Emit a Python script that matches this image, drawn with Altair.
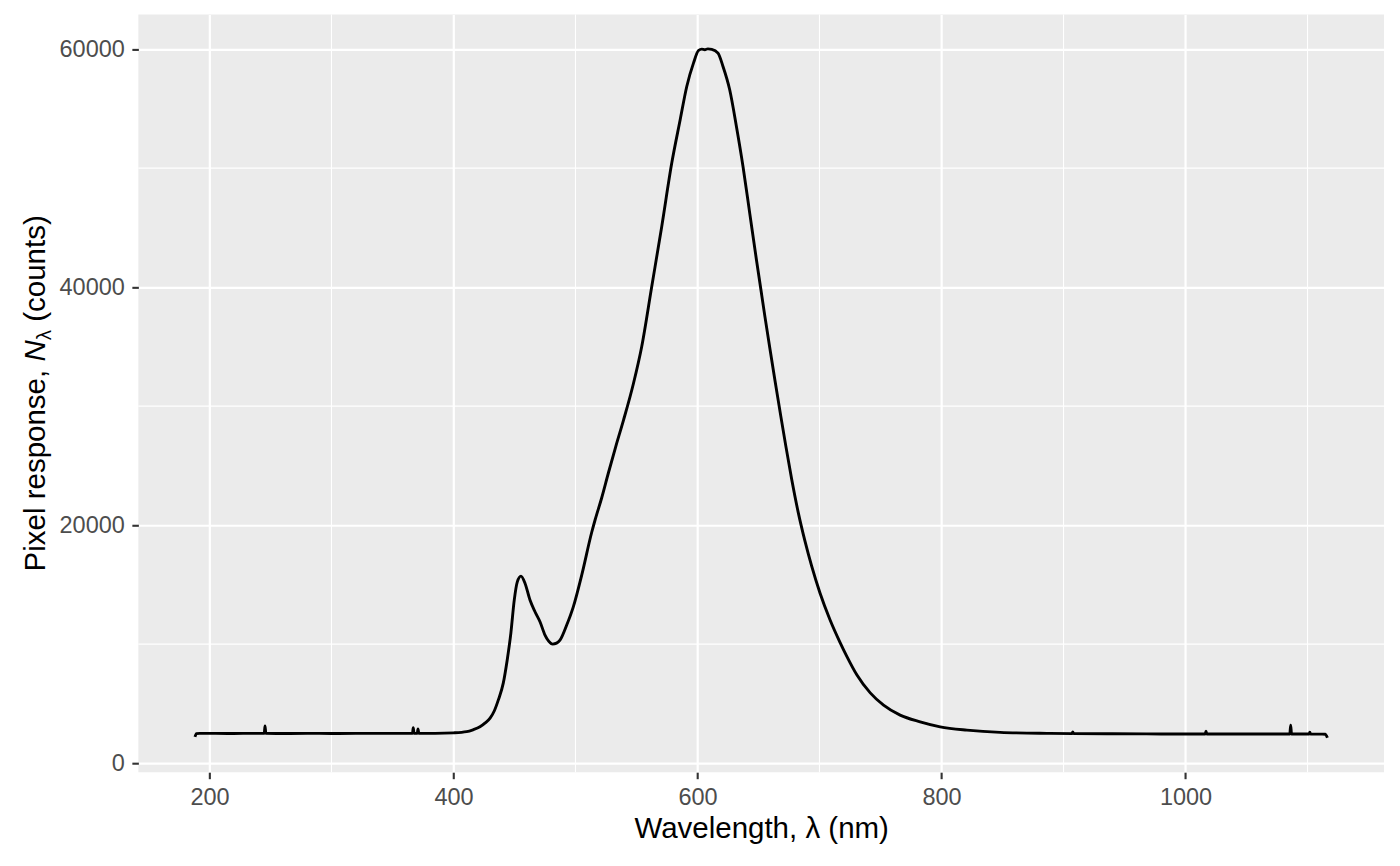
import altair as alt
import pandas as pd

# ---- data ----
wavelength_nm = [188.1, 189.3, 192, 205, 220, 235, 244.9, 245.5, 246.2, 260, 280, 300, 320, 340, 355,
                 366.4, 367.0, 367.7, 370.3, 370.9, 371.6, 385, 400, 410.8, 416, 421.7, 426, 430, 433.5,
                 436.7, 440.8, 444, 447, 449.8, 452.3, 455.3, 458.6, 462.7, 466.8, 470.9, 475, 478, 481.3,
                 484.5, 487.3, 492.8, 498.2, 505.1, 513.3, 516.1, 521.5, 527, 533, 539.3, 547.5, 554.3,
                 562.5, 570.7, 578.9, 585.8, 591.2, 596.7, 600.8, 603.5, 606, 608.5, 611.7, 616.8, 620.9,
                 626.4, 631.9, 637.3, 642.8, 648.3, 655.3, 659.4, 663.5, 668.2, 672.3, 677.2, 682.6, 688.1,
                 693.6, 700.4, 708.6, 716.8, 722.5, 730.7, 741.6, 752.5, 766.1, 782.5, 798.9, 820.8, 848.1,
                 886.4, 907, 907.6, 908.3, 940, 980, 1016.2, 1016.8, 1017.4, 1050, 1085.5, 1086.2, 1086.9,
                 1101.4, 1101.9, 1102.5, 1114.5, 1116.3]
pixel_counts = [2210, 2480, 2500, 2500, 2490, 2500, 2500, 3130, 2500, 2490, 2500, 2490, 2500, 2495, 2500,
                2500, 2970, 2500, 2500, 2880, 2500, 2500, 2540, 2640, 2800, 3050, 3380, 3780, 4400,
                5290, 6720, 8650, 10900, 13700, 15230, 15710, 15120, 13700, 12720, 11880, 10760, 10250, 10000,
                10080, 10330, 11600, 13130, 15800, 19400, 20450, 22300, 24400, 26600, 28800, 31900, 35010,
                40050, 45100, 50420, 54060, 56860, 58820, 59880, 60000, 59950, 60020, 59980, 59660, 58540,
                56580, 53500, 50140, 46220, 42300, 37500, 34800, 32150, 29200, 26700, 23850, 21050, 18650,
                16550, 14300, 12050, 10150, 8950, 7400, 5900, 4870, 4030, 3470, 3050, 2770, 2580,
                2500, 2480, 2620, 2480, 2470, 2450, 2450, 2690, 2450, 2440, 2440, 3190, 2440,
                2440, 2600, 2440, 2430, 2130]

x_major = [200, 400, 600, 800, 1000]
x_minor = [300, 500, 700, 900, 1100]
y_major = [0, 20000, 40000, 60000]
y_minor = [10000, 30000, 50000]

x_title = "Wavelength, λ (nm)"
y_title_parts = ["Pixel response,", "N", "λ", "(counts)"]

# ---- layout ----
W, H = 1246, 758
x_dom = [141.7, 1162.7]
y_dom = [-764, 62914]
FONT = "Liberation Sans"
TF = 29.5

xs = alt.Scale(domain=x_dom, nice=False, zero=False)
ys = alt.Scale(domain=y_dom, nice=False, zero=False)
xa = alt.Axis(values=x_major, format="d", title=x_title, titleY=65.5, titleBaseline="alphabetic",
              labelPadding=6.5)
ya = alt.Axis(values=y_major, format="d", title=None, labelPadding=7.5)

df = pd.DataFrame({"wl": wavelength_nm, "n": pixel_counts})

minor_v = alt.Chart(pd.DataFrame({"wl": x_minor})).mark_rule(color="white", strokeWidth=1.1).encode(
    x=alt.X("wl:Q", scale=xs, axis=xa))
minor_h = alt.Chart(pd.DataFrame({"n": y_minor})).mark_rule(color="white", strokeWidth=1.1).encode(
    y=alt.Y("n:Q", scale=ys, axis=ya))

line = alt.Chart(df).mark_line(color="black", strokeWidth=2.9, interpolate="monotone").encode(
    x=alt.X("wl:Q", scale=xs, axis=xa),
    y=alt.Y("n:Q", scale=ys, axis=ya),
)

# y-axis title built from pieces (italic N, subscript lambda)
w_space = 0.278 * TF
w1 = 6.836 * TF
wN = 0.722 * TF
wl_sub = 0.5 * TF * 0.7
y0 = H / 2 + (w1 + w_space + wN + wl_sub + w_space + 3.612 * TF) / 2
base_x = -93.5
pos = [y0, y0 - w1 - w_space, y0 - w1 - w_space - wN, y0 - w1 - w_space - wN - wl_sub - w_space]
styles = [
    dict(fontStyle="normal", fontSize=TF, dx=0),
    dict(fontStyle="italic", fontSize=TF, dx=0),
    dict(fontStyle="normal", fontSize=TF * 0.7, dx=6),
    dict(fontStyle="normal", fontSize=TF, dx=0),
]
title_layers = []
for txt, yy, st in zip(y_title_parts, pos, styles):
    title_layers.append(
        alt.Chart(pd.DataFrame({"t": [txt]})).mark_text(
            angle=270, align="left", baseline="alphabetic", font=FONT, color="black",
            fontSize=st["fontSize"], fontStyle=st["fontStyle"]
        ).encode(text="t:N", x=alt.value(base_x + st["dx"]), y=alt.value(yy))
    )

chart = alt.layer(minor_v, minor_h, line, *title_layers).properties(
    width=W, height=H,
    autosize=alt.AutoSizeParams(type="none"),
    padding={"left": 130.4, "top": 6.3, "right": 8, "bottom": 80},
    background="white",
).configure_view(
    fill="#EBEBEB", strokeWidth=0
).configure_axis(
    domain=False, grid=True, gridColor="white", gridWidth=2.2,
    tickColor="#333333", tickSize=6.5, tickWidth=2.1,
    labelFont=FONT, labelFontSize=23.5, labelColor="#4D4D4D", labelFlush=False, labelOverlap=False,
    titleFont=FONT, titleFontSize=TF, titleColor="black", titleFontWeight="normal",
)

chart.save("out.html", embed_options={"renderer": "svg", "actions": False})
